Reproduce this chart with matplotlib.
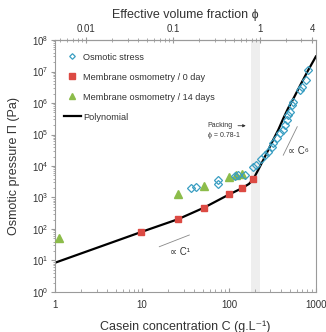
import matplotlib
matplotlib.use('Agg')
import matplotlib.pyplot as plt
from matplotlib.ticker import FixedLocator, FuncFormatter

plt.rcParams['font.family'] = ['Liberation Sans', 'DejaVu Sans']

# osmotic stress (open diamonds)
os_c = [37, 42, 75, 75, 117, 128, 152, 190, 207, 231, 259, 283, 309, 323, 353,
        386, 414, 440, 460, 481, 501, 525, 548, 655, 685, 767, 813]
os_p = [1950, 2100, 3600, 2700, 4900, 5150, 5150, 9500, 1.1e4, 1.7e4, 2.2e4,
        2.8e4, 4.1e4, 5.2e4, 7.6e4, 1.1e5, 1.4e5, 2.0e5, 2.9e5, 4.2e5, 5.2e5,
        8.7e5, 1.1e6, 2.6e6, 3.3e6, 5.4e6, 1.1e7]

# membrane osmometry, day 0 and day 14
mem0_c = [9.7, 26, 52, 101, 140, 190]
mem0_p = [82, 203, 474, 1260, 1960, 3860]
mem14_c = [1.12, 26, 52, 100, 120, 140]
mem14_p = [53, 1250, 2300, 4600, 5200, 5400]

# polynomial fit curve
poly_c = [1, 10, 26, 52, 101, 140, 170, 190, 217, 248, 283, 323, 369, 421,
          479, 560, 655, 800, 1000]
poly_p = [8.5, 82, 205, 480, 1260, 1950, 2700, 3800, 7.5e3, 1.55e4, 3.2e4,
          6.8e4, 1.4e5, 3.2e5, 6.8e5, 1.5e6, 3.5e6, 1.0e7, 3.0e7]

phi_per_c = 0.0044
phi_ticks = [0.01, 0.1, 1, 4]
band = [0.78 / phi_per_c, 1 / phi_per_c]

grey = '#9a9a9a'
txt = '#333333'

fig = plt.figure(figsize=(3.26, 3.32), dpi=100)
ax = fig.add_axes([0.169, 0.1205, 0.800, 0.759])

ax.axvspan(band[0], band[1], color='#eeeeee', lw=0, zorder=0)

ax.plot(poly_c, poly_p, color='black', lw=1.6, zorder=2, label='Polynomial')
ax.plot(os_c, os_p, 'D', ms=3.8, mfc='none', mec='#3a9ec2', mew=0.9,
        zorder=4, label='Osmotic stress', ls='none')
ax.plot(mem0_c, mem0_p, 's', ms=5, color='#dc4a43', zorder=3,
        label='Membrane osmometry / 0 day', ls='none')
ax.plot(mem14_c, mem14_p, '^', ms=5.2, color='#8cbc4a', zorder=3,
        label='Membrane osmometry / 14 days', ls='none')

ax.set_xscale('log')
ax.set_yscale('log')
ax.set_xlim(1, 1000)
ax.set_ylim(1, 1e8)

ax.xaxis.set_major_formatter(FuncFormatter(lambda v, p: '%g' % v))
ax.tick_params(axis='x', which='both', direction='in', colors=grey,
               labelcolor=txt, labelsize=7, pad=6)
ax.tick_params(axis='x', which='major', length=3)
ax.tick_params(axis='x', which='minor', length=2)
ax.tick_params(axis='y', which='both', direction='out', colors=grey,
               labelcolor=txt, labelsize=7, pad=2)
ax.tick_params(axis='y', which='major', length=3)
ax.tick_params(axis='y', which='minor', length=1.5)
for s in ax.spines.values():
    s.set_color(grey)
    s.set_linewidth(0.8)

sec = ax.secondary_xaxis('top', functions=(lambda c: c * phi_per_c,
                                           lambda f: f / phi_per_c))
sec.xaxis.set_major_locator(FixedLocator(phi_ticks))
sec.xaxis.set_major_formatter(FuncFormatter(lambda v, p: '%g' % v))
sec.tick_params(which='both', direction='inout', colors=grey,
                labelcolor=txt, labelsize=7, pad=2)
sec.tick_params(which='major', length=4)
sec.tick_params(which='minor', length=3)
sec.spines['top'].set_color(grey)
sec.set_xlabel('Effective volume fraction \u03d5', fontsize=9, color=txt,
               labelpad=5)

ax.set_xlabel('Casein concentration C (g.L\u207b\u00b9)', fontsize=9,
              color=txt, labelpad=7)
ax.set_ylabel('Osmotic pressure \u03a0 (Pa)', fontsize=9, color=txt,
              labelpad=8)

handles, labels = ax.get_legend_handles_labels()
order = [1, 2, 3, 0]
ax.legend([handles[i] for i in order], [labels[i] for i in order],
          loc='upper left', bbox_to_anchor=(0.035, 0.95), frameon=False,
          fontsize=6.6, labelspacing=1.2, handlelength=1.8,
          handletextpad=0.25, numpoints=1, borderaxespad=0, borderpad=0,
          markerscale=0.75, labelcolor=txt)

# slope guides
ax.plot([15.8, 35], [27.4, 64.5], color='#888888', lw=0.6)
ax.text(27, 19, '\u221d C\u00b9', fontsize=7, color=txt, ha='center',
        va='center')
ax.plot([421, 610], [2.2e4, 1.77e5], color='#888888', lw=0.6)
ax.text(630, 2.9e4, '\u221d C\u2076', fontsize=7, color=txt, ha='center',
        va='center')

ax.text(57, 1.9e5, 'Packing', fontsize=5, color=txt, ha='left',
        va='center')
ax.annotate('', xy=(168, 1.9e5), xytext=(118, 1.9e5),
            arrowprops=dict(arrowstyle='-|>', color=txt, lw=0.6,
                            mutation_scale=4))
ax.text(57, 9.6e4, '\u03d5 = 0.78-1', fontsize=5, color=txt, ha='left',
        va='center')

fig.savefig('out.png', dpi=100)
